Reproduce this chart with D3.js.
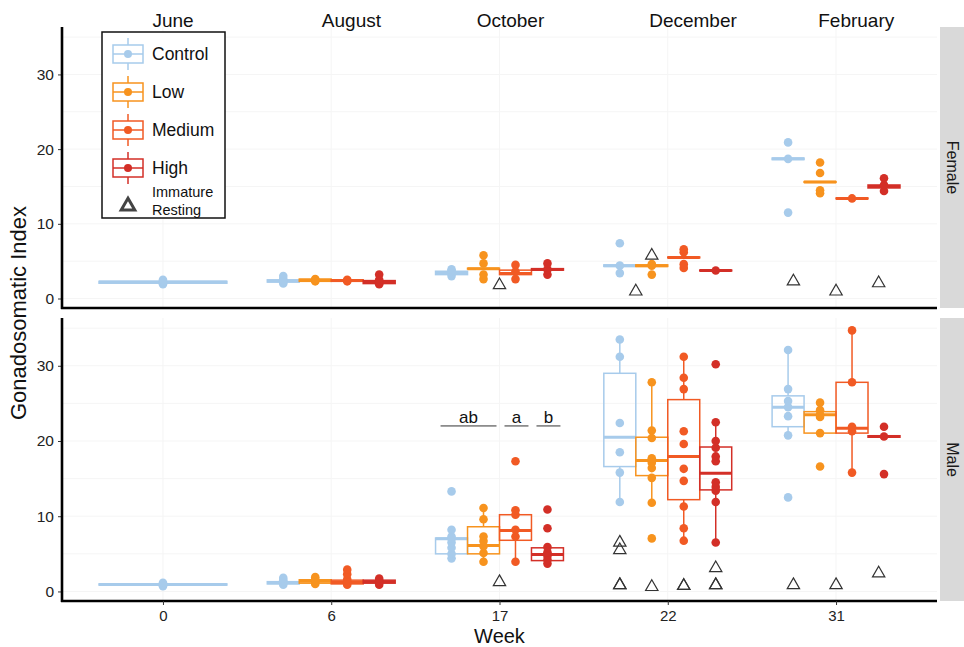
<!DOCTYPE html>
<html>
<head>
<meta charset="utf-8">
<script src="https://cdn.jsdelivr.net/npm/d3@7"></script>
<style>
  body { margin: 0; background: #fff; }
  text { font-family: "Liberation Sans", Arial, sans-serif; }
</style>
</head>
<body>
<svg width="964" height="647"></svg>
<script>
const weeks = [0, 6, 17, 22, 31];
const months = ['June', 'August', 'October', 'December', 'February'];
const treatments = ['Control', 'Low', 'Medium', 'High'];
const colors = ['#a7cbeb', '#f7931e', '#f15a24', '#d32f27'];
const sexes = ['Female', 'Male'];
const yTicks = [0, 10, 20, 30];

// sex, week, treatment, lower whisker, q1, median, q3, upper whisker
const boxes = [
    ['Female', 0, 'Control', 1.9, 2.05, 2.2, 2.3, 2.5],
    ['Female', 6, 'Control', 2.0, 2.2, 2.35, 2.5, 2.6],
    ['Female', 6, 'Low', 2.3, 2.3, 2.45, 2.6, 2.6],
    ['Female', 6, 'Medium', 2.3, 2.3, 2.4, 2.5, 2.5],
    ['Female', 6, 'High', 1.9, 2.0, 2.2, 2.4, 2.4],
    ['Female', 17, 'Control', 3.2, 3.2, 3.4, 3.65, 3.65],
    ['Female', 17, 'Low', 3.95, 3.95, 4.0, 4.05, 4.05],
    ['Female', 17, 'Medium', 3.2, 3.2, 3.35, 3.8, 3.8],
    ['Female', 17, 'High', 3.8, 3.8, 3.9, 4.0, 4.0],
    ['Female', 22, 'Control', 4.3, 4.3, 4.4, 4.5, 4.5],
    ['Female', 22, 'Low', 4.3, 4.3, 4.4, 4.5, 4.5],
    ['Female', 22, 'Medium', 5.45, 5.45, 5.5, 5.55, 5.55],
    ['Female', 22, 'High', 3.7, 3.7, 3.75, 3.8, 3.8],
    ['Female', 31, 'Control', 18.6, 18.6, 18.7, 18.8, 18.8],
    ['Female', 31, 'Low', 15.55, 15.55, 15.6, 15.65, 15.65],
    ['Female', 31, 'Medium', 13.35, 13.35, 13.4, 13.45, 13.45],
    ['Female', 31, 'High', 14.8, 14.8, 15.0, 15.2, 15.2],
    ['Male', 0, 'Control', 0.75, 0.85, 0.93, 1.0, 1.1],
    ['Male', 6, 'Control', 0.9, 1.0, 1.15, 1.3, 1.6],
    ['Male', 6, 'Low', 1.0, 1.1, 1.35, 1.55, 1.8],
    ['Male', 6, 'Medium', 0.9, 1.0, 1.2, 1.5, 2.3],
    ['Male', 6, 'High', 0.9, 1.1, 1.3, 1.5, 1.7],
    ['Male', 17, 'Control', 4.4, 5.0, 7.0, 7.1, 8.2],
    ['Male', 17, 'Low', 3.95, 5.0, 6.1, 8.6, 11.1],
    ['Male', 17, 'Medium', 3.95, 6.8, 8.1, 10.2, 10.8],
    ['Male', 17, 'High', 3.6, 4.1, 4.9, 5.8, 5.9],
    ['Male', 22, 'Control', 11.9, 16.6, 20.5, 29.0, 33.5],
    ['Male', 22, 'Low', 11.8, 15.4, 17.4, 20.5, 27.8],
    ['Male', 22, 'Medium', 6.75, 12.2, 17.95, 25.5, 31.2],
    ['Male', 22, 'High', 6.5, 13.5, 15.7, 19.2, 22.5],
    ['Male', 31, 'Control', 20.75, 21.9, 24.5, 26.0, 32.1],
    ['Male', 31, 'Low', 21.05, 21.05, 23.5, 23.9, 25.1],
    ['Male', 31, 'Medium', 15.8, 21.05, 21.7, 27.8, 34.7],
    ['Male', 31, 'High', 20.5, 20.5, 20.6, 20.7, 20.7]
];

// sex, week, treatment, individual fish
const points = [
    ['Female', 0, 'Control', [1.9, 2.1, 2.2, 2.3, 2.5]],
    ['Female', 6, 'Control', [2.0, 2.2, 2.4, 2.6, 3.0]],
    ['Female', 6, 'Low', [2.3, 2.4, 2.5, 2.6]],
    ['Female', 6, 'Medium', [2.3, 2.4, 2.5]],
    ['Female', 6, 'High', [1.9, 2.1, 2.3, 2.5, 3.2]],
    ['Female', 17, 'Control', [3.0, 3.3, 3.5, 3.7, 3.9]],
    ['Female', 17, 'Low', [2.6, 3.2, 4.7, 5.8]],
    ['Female', 17, 'Medium', [2.6, 3.6, 4.5]],
    ['Female', 17, 'High', [3.2, 3.9, 4.7]],
    ['Female', 22, 'Control', [3.4, 4.4, 7.4]],
    ['Female', 22, 'Low', [3.2, 4.4, 4.6]],
    ['Female', 22, 'Medium', [4.1, 4.6, 6.2, 6.6]],
    ['Female', 22, 'High', [3.75]],
    ['Female', 31, 'Control', [11.5, 18.7, 20.9]],
    ['Female', 31, 'Low', [14.1, 14.5, 16.8, 18.2]],
    ['Female', 31, 'Medium', [13.4]],
    ['Female', 31, 'High', [14.4, 15.2, 16.1]],
    ['Male', 0, 'Control', [0.7, 0.85, 1.0, 1.15]],
    ['Male', 6, 'Control', [0.9, 1.1, 1.3, 1.5, 1.8]],
    ['Male', 6, 'Low', [1.0, 1.2, 1.4, 1.6, 1.9]],
    ['Male', 6, 'Medium', [0.9, 1.2, 1.6, 2.3, 2.9]],
    ['Male', 6, 'High', [0.9, 1.2, 1.4, 1.7]],
    ['Male', 17, 'Control', [4.4, 5.0, 5.8, 6.5, 7.0, 7.3, 8.2, 13.3]],
    ['Male', 17, 'Low', [3.95, 5.1, 6.0, 6.7, 7.3, 9.6, 11.1]],
    ['Male', 17, 'Medium', [3.95, 7.3, 8.2, 10.2, 10.8, 17.3]],
    ['Male', 17, 'High', [3.7, 4.2, 4.7, 5.2, 5.9, 8.4, 10.9]],
    ['Male', 22, 'Control', [11.9, 15.8, 18.5, 22.4, 31.2, 33.5]],
    ['Male', 22, 'Low', [7.05, 11.8, 15.1, 16.4, 17.1, 17.7, 20.4, 21.4, 27.8]],
    ['Male', 22, 'Medium', [6.75, 8.4, 11.3, 14.7, 16.3, 19.6, 21.3, 26.9, 28.4, 31.2]],
    ['Male', 22, 'High', [6.5, 11.9, 13.4, 13.9, 14.5, 17.3, 17.95, 19.1, 20.0, 22.5, 30.2]],
    ['Male', 31, 'Control', [12.5, 20.75, 23.3, 24.5, 25.3, 26.9, 32.1]],
    ['Male', 31, 'Low', [16.6, 21.05, 23.2, 23.5, 24.1, 25.1]],
    ['Male', 31, 'Medium', [15.8, 21.3, 21.9, 27.8, 34.7]],
    ['Male', 31, 'High', [15.6, 20.6, 21.9]]
];

// immature / resting fish: sex, week, dodge slot, number of slots, value
const resting = [
    ['Female', 17, 0, 1, 1.8],
    ['Female', 22, 0, 2, 0.95],
    ['Female', 22, 1, 4, 5.75],
    ['Female', 31, 0, 3, 2.3],
    ['Female', 31, 1, 3, 0.95],
    ['Female', 31, 2, 3, 2.05],
    ['Male', 17, 0, 1, 1.25],
    ['Male', 22, 0, 4, 6.5],
    ['Male', 22, 0, 4, 5.5],
    ['Male', 22, 0, 4, 0.85],
    ['Male', 22, 0, 4, 0.85],
    ['Male', 22, 1, 4, 0.6],
    ['Male', 22, 2, 4, 0.75],
    ['Male', 22, 2, 4, 0.75],
    ['Male', 22, 3, 4, 3.1],
    ['Male', 22, 3, 4, 0.85],
    ['Male', 22, 3, 4, 0.85],
    ['Male', 31, 0, 3, 0.85],
    ['Male', 31, 1, 3, 0.85],
    ['Male', 31, 2, 3, 2.4]
];

// significance letters for males at week 17: label, first and last treatment
const letterLabels = ['ab', 'a', 'b'];
const letterSpans = [['Control', 'Low'], ['Medium', 'Medium'], ['High', 'High']];
const letterWeek = 17;
const letterLevel = 22;

const svg = d3.select('svg');
const left = 62, right = 937;
const panelRange = { Female: [308, 27], Male: [601, 318] };
const yDomain = [-1.27, 36.35];
const font = '"Liberation Sans", Arial, sans-serif';
// month labels sit a little right of each week (in steps)
const monthNudge = [0.06, 0.12, 0.065, 0.15, 0.12];

const x = d3.scalePoint().domain(weeks).range([left, right]).padding(0.6);
const dodge = x.step() * 0.76;

function groupPos(sex, week, tr) {
    const present = boxes.filter(b => b[0] === sex && b[1] === week).map(b => b[2]);
    const n = present.length;
    const i = present.indexOf(tr);
    return { cx: x(week) + (i - (n - 1) / 2) * dodge / n, w: dodge / n };
}

const colorOf = d3.scaleOrdinal().domain(treatments).range(colors);
const tri = d3.symbol(d3.symbolTriangle, 66);

sexes.forEach(sex => {
    const [bottom, top] = panelRange[sex];
    const y = d3.scaleLinear().domain(yDomain).range([bottom, top]);
    const g = svg.append('g');

    // faint grid
    g.selectAll('.hgrid').data(d3.range(0, 36, 5)).enter().append('line')
        .attr('x1', left).attr('x2', right)
        .attr('y1', d => y(d)).attr('y2', d => y(d))
        .attr('stroke', '#f5f5f5').attr('stroke-width', 1);
    g.selectAll('.vgrid').data(weeks).enter().append('line')
        .attr('x1', d => x(d)).attr('x2', d => x(d))
        .attr('y1', top).attr('y2', bottom)
        .attr('stroke', '#f5f5f5').attr('stroke-width', 1);

    // boxplots
    const bx = boxes.filter(b => b[0] === sex);
    const bg = g.selectAll('.box').data(bx).enter().append('g')
        .attr('stroke', d => colorOf(d[2]))
        .attr('fill', 'none');
    bg.append('line')
        .attr('x1', d => groupPos(sex, d[1], d[2]).cx).attr('x2', d => groupPos(sex, d[1], d[2]).cx)
        .attr('y1', d => y(d[3])).attr('y2', d => y(d[4]))
        .attr('stroke-width', 1.5);
    bg.append('line')
        .attr('x1', d => groupPos(sex, d[1], d[2]).cx).attr('x2', d => groupPos(sex, d[1], d[2]).cx)
        .attr('y1', d => y(d[6])).attr('y2', d => y(d[7]))
        .attr('stroke-width', 1.5);
    bg.append('rect')
        .attr('x', d => { const p = groupPos(sex, d[1], d[2]); return p.cx - p.w / 2; })
        .attr('width', d => groupPos(sex, d[1], d[2]).w)
        .attr('y', d => y(d[6]))
        .attr('height', d => Math.max(0, y(d[4]) - y(d[6])))
        .attr('stroke-width', 1.5);
    bg.append('line')
        .attr('x1', d => { const p = groupPos(sex, d[1], d[2]); return p.cx - p.w / 2; })
        .attr('x2', d => { const p = groupPos(sex, d[1], d[2]); return p.cx + p.w / 2; })
        .attr('y1', d => y(d[5])).attr('y2', d => y(d[5]))
        .attr('stroke-width', 3);

    // individual fish
    const pts = [];
    points.filter(p => p[0] === sex).forEach(p => {
        p[3].forEach(v => pts.push({ week: p[1], tr: p[2], v: v }));
    });
    g.selectAll('.pt').data(pts).enter().append('circle')
        .attr('cx', d => groupPos(sex, d.week, d.tr).cx)
        .attr('cy', d => y(d.v))
        .attr('r', 4.3)
        .attr('fill', d => colorOf(d.tr));

    // immature / resting
    g.selectAll('.rest').data(resting.filter(r => r[0] === sex)).enter().append('path')
        .attr('d', tri)
        .attr('transform', d => {
            const cx = x(d[1]) + (d[2] - (d[3] - 1) / 2) * dodge / d[3];
            return `translate(${cx},${y(d[4])})`;
        })
        .attr('fill', 'none')
        .attr('stroke', '#333')
        .attr('stroke-width', 1.2);

    // y axis
    const ax = g.append('g')
        .attr('transform', `translate(${left},0)`)
        .call(d3.axisLeft(y).tickValues(yTicks).tickSize(4).tickPadding(4));
    ax.select('.domain').remove();
    ax.selectAll('line').attr('stroke', '#333');
    ax.selectAll('text').attr('font-size', 15.5).attr('fill', '#222').attr('font-family', font);

    g.append('line').attr('x1', left).attr('x2', left).attr('y1', top).attr('y2', bottom + 1)
        .attr('stroke', '#000').attr('stroke-width', 2.6);
    g.append('line').attr('x1', left - 1).attr('x2', right).attr('y1', bottom).attr('y2', bottom)
        .attr('stroke', '#000').attr('stroke-width', 2.6);

    // strip
    g.append('rect').attr('x', 940).attr('width', 24).attr('y', top).attr('height', bottom - top)
        .attr('fill', '#d9d9d9');
    g.append('text')
        .attr('transform', `translate(952,${(top + bottom) / 2}) rotate(90)`)
        .attr('text-anchor', 'middle').attr('dominant-baseline', 'central')
        .attr('font-size', 16).attr('fill', '#1a1a1a')
        .text(sex);

    if (sex === 'Male') {
        const xa = g.append('g')
            .attr('transform', `translate(0,${bottom})`)
            .call(d3.axisBottom(x).tickSize(4).tickPadding(5));
        xa.select('.domain').remove();
        xa.selectAll('line').attr('stroke', '#333');
        xa.selectAll('text').attr('font-size', 15).attr('fill', '#222').attr('font-family', font);

        // significance letters
        letterLabels.forEach((lab, i) => {
            const a = groupPos(sex, letterWeek, letterSpans[i][0]);
            const b = groupPos(sex, letterWeek, letterSpans[i][1]);
            const x1 = a.cx - a.w / 2 + 5, x2 = b.cx + b.w / 2 - 3;
            g.append('line').attr('x1', x1).attr('x2', x2)
                .attr('y1', y(letterLevel)).attr('y2', y(letterLevel))
                .attr('stroke', '#333').attr('stroke-width', 1);
            g.append('text').attr('x', (x1 + x2) / 2).attr('y', y(letterLevel) - 3)
                .attr('text-anchor', 'middle').attr('font-size', 17).attr('fill', '#111')
                .text(lab);
        });
    }
});

// month labels along the top
svg.selectAll('.month').data(months).enter().append('text')
    .attr('x', (d, i) => x(weeks[i]) + x.step() * monthNudge[i])
    .attr('y', 27)
    .attr('text-anchor', 'middle')
    .attr('font-size', 19).attr('fill', '#111')
    .text(d => d);

// axis titles
svg.append('text').attr('x', (left + right) / 2).attr('y', 642.5)
    .attr('text-anchor', 'middle').attr('font-size', 20).attr('fill', '#111')
    .text('Week');
svg.append('text').attr('transform', 'translate(26,313) rotate(-90)')
    .attr('text-anchor', 'middle').attr('font-size', 22).attr('fill', '#111')
    .text('Gonadosomatic Index');

// legend
const lg = svg.append('g');
lg.append('rect').attr('x', 102).attr('y', 32).attr('width', 123).attr('height', 186)
    .attr('fill', '#fff').attr('stroke', '#111').attr('stroke-width', 1.5);
const keys = lg.selectAll('.key').data(treatments).enter().append('g')
    .attr('transform', (d, i) => `translate(128,${54 + i * 38})`);
keys.append('line').attr('y1', -16).attr('y2', 16)
    .attr('stroke', d => colorOf(d)).attr('stroke-width', 1.5);
keys.append('rect').attr('x', -15).attr('y', -9).attr('width', 30).attr('height', 18)
    .attr('fill', '#fff').attr('stroke', d => colorOf(d)).attr('stroke-width', 1.5);
keys.append('line').attr('x1', -15).attr('x2', 15)
    .attr('stroke', d => colorOf(d)).attr('stroke-width', 1.5);
keys.append('circle').attr('r', 4).attr('fill', d => colorOf(d));
keys.append('text').attr('x', 24).attr('dominant-baseline', 'central')
    .attr('font-size', 17.5).attr('fill', '#111')
    .text(d => d);
lg.append('path').attr('d', d3.symbol(d3.symbolTriangle, 80))
    .attr('transform', 'translate(128,206)')
    .attr('fill', 'none').attr('stroke', '#444').attr('stroke-width', 3);
lg.append('text').attr('x', 152).attr('y', 197).attr('font-size', 14.5).attr('fill', '#111').text('Immature');
lg.append('text').attr('x', 152).attr('y', 215).attr('font-size', 14.5).attr('fill', '#111').text('Resting');
</script>
</body>
</html>
